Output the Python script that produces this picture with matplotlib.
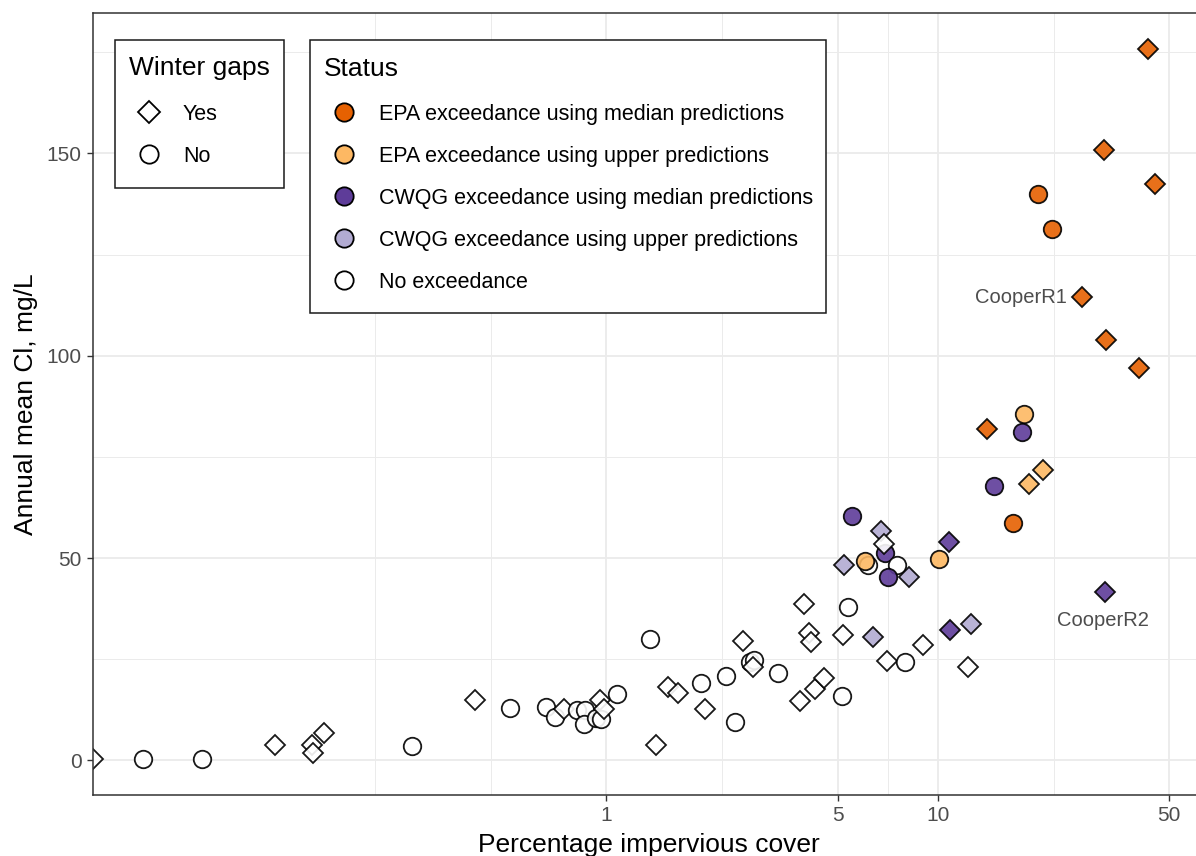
import numpy as np
import matplotlib
matplotlib.use("Agg")
import matplotlib.pyplot as plt
from matplotlib.lines import Line2D
from matplotlib.patches import Rectangle

plt.rcParams['font.family'] = ['Liberation Sans', 'DejaVu Sans']

# ---------------- data ----------------
impervious = [0, 0.040, 0.060, 0.100, 0.129, 0.130, 0.140, 0.259, 0.400, 0.511,
              0.659, 0.698, 0.743, 0.816, 0.864, 0.858, 0.933, 0.964, 0.953, 0.980,
              1.077, 1.358, 1.41, 1.535, 1.64, 1.93, 1.99, 2.30, 2.44, 2.59,
              2.72, 2.78, 2.77, 3.30, 3.84, 3.94, 4.08, 4.15, 4.27, 4.55,
              5.14, 5.18, 5.36, 6.38, 7.03, 7.94, 9.0, 10.9, 12.6, 12.3,
              5.51, 6.75, 6.91, 6.86, 5.22, 6.18, 6.04, 7.53, 7.08, 8.17,
              10.1, 10.78, 14.8, 18.9, 20.8, 14.06, 18.15, 17.9, 16.9, 32.0,
              43.2, 31.8, 45.3, 20.05, 22.1, 27.2, 32.2, 40.6]
chloride = [0.3, 0.3, 0.3, 3.9, 3.7, 1.9, 6.7, 3.5, 14.9, 12.9,
            13.1, 10.8, 12.6, 12.5, 12.5, 9.0, 10.4, 10.3, 14.9, 12.7,
            16.3, 30.0, 3.7, 18.1, 16.6, 19.1, 12.6, 20.9, 9.6, 29.6,
            24.2, 24.8, 23.0, 21.6, 14.6, 38.6, 31.6, 29.2, 17.7, 20.3,
            15.9, 31.0, 37.8, 30.4, 24.6, 24.4, 28.5, 32.3, 33.8, 23.0,
            60.3, 56.7, 51.3, 53.4, 48.2, 48.4, 49.3, 48.4, 45.2, 45.4,
            49.7, 53.9, 67.9, 68.4, 71.8, 81.9, 85.6, 81.1, 58.7, 41.5,
            175.9, 150.8, 142.5, 140.0, 131.4, 114.5, 104.0, 96.9]
winter_gaps = ['Yes', 'No', 'No', 'Yes', 'Yes', 'Yes', 'Yes', 'No', 'Yes', 'No',
               'No', 'No', 'Yes', 'No', 'No', 'No', 'No', 'No', 'Yes', 'Yes',
               'No', 'No', 'Yes', 'Yes', 'Yes', 'No', 'Yes', 'No', 'No', 'Yes',
               'No', 'No', 'Yes', 'No', 'Yes', 'Yes', 'Yes', 'Yes', 'Yes', 'Yes',
               'No', 'Yes', 'No', 'Yes', 'Yes', 'No', 'Yes', 'Yes', 'Yes', 'Yes',
               'No', 'Yes', 'No', 'Yes', 'Yes', 'No', 'No', 'No', 'No', 'Yes',
               'No', 'Yes', 'No', 'Yes', 'Yes', 'Yes', 'No', 'No', 'No', 'Yes',
               'Yes', 'Yes', 'Yes', 'No', 'No', 'Yes', 'Yes', 'Yes']
N_, EM, EU, CM, CU = 4, 0, 1, 2, 3
status = [N_, N_, N_, N_, N_, N_, N_, N_, N_, N_,
          N_, N_, N_, N_, N_, N_, N_, N_, N_, N_,
          N_, N_, N_, N_, N_, N_, N_, N_, N_, N_,
          N_, N_, N_, N_, N_, N_, N_, N_, N_, N_,
          N_, N_, N_, CU, N_, N_, N_, CM, CU, N_,
          CM, CU, CM, N_, CU, N_, EU, N_, CM, CU,
          EU, CM, CM, EU, EU, EM, EU, CM, EM, CM,
          EM, EM, EM, EM, EM, EM, EM, EM]
site_labels = {75: 'CooperR1', 69: 'CooperR2'}

status_labels = ['EPA exceedance using median predictions',
                 'EPA exceedance using upper predictions',
                 'CWQG exceedance using median predictions',
                 'CWQG exceedance using upper predictions',
                 'No exceedance']
status_colors = ['#E66101', '#FDB863', '#5E3C99', '#B2ABD2', '#FFFFFF']
gap_labels = ['Yes', 'No']
gap_markers = {'Yes': 'D', 'No': 'o'}

x_breaks = [1, 5, 10, 50]
y_breaks = [0, 50, 100, 150]

# ---------------- figure ----------------
W, H = 1196, 856
fig = plt.figure(figsize=(W / 100, H / 100), dpi=100)
fx = lambda px: px / W
fy = lambda py: 1 - py / H
left, right, top, bottom = 92.7, 1205.7, 13.0, 794.7
ax = fig.add_axes([fx(left), fy(bottom), fx(right) - fx(left), (bottom - top) / H])

x = np.array(impervious, float)
y = np.array(chloride, float)
pos = x[x > 0]
lx0, lx1 = np.log10(pos.min()), np.log10(pos.max())
ex = 0.05 * (lx1 - lx0)
xlim = (10 ** (lx0 - ex), 10 ** (lx1 + ex))
ey = 0.05 * (y.max() - y.min())
ylim = (y.min() - ey, y.max() + ey)

ax.set_xscale('log')
ax.set_xlim(*xlim)
ax.set_ylim(*ylim)

# gridlines (ggplot-like: major + minor)
lb = np.log10(x_breaks)
bd = lb[1] - lb[0]
ext = np.concatenate([[lb[0] - bd], lb])
minor_x = []
for a, b in zip(ext[:-1], ext[1:]):
    minor_x.append((a + b) / 2)
minor_x = [10 ** v for v in minor_x] + [10 ** ext[0]]
for v in minor_x:
    ax.axvline(v, color='#EBEBEB', lw=0.7, zorder=0)
for v in [25, 75, 125, 175]:
    ax.axhline(v, color='#EBEBEB', lw=0.7, zorder=0)
for v in x_breaks:
    ax.axvline(v, color='#EBEBEB', lw=1.3, zorder=0.5)
for v in y_breaks:
    ax.axhline(v, color='#EBEBEB', lw=1.3, zorder=0.5)

MS = {'D': 10.2, 'o': 12.6}
MEW = 1.3

# points, in data order
xplot = np.where(x > 0, x, xlim[0])
for i in range(len(x)):
    m = gap_markers[winter_gaps[i]]
    ax.plot([xplot[i]], [y[i]], linestyle='none', marker=m, ms=MS[m],
            mfc=status_colors[status[i]], mec='black', mew=MEW, alpha=0.9,
            zorder=2 + i * 0.01, clip_on=True)

for i, lab in site_labels.items():
    if lab == 'CooperR1':
        ax.annotate(lab, (xplot[i], y[i]), xytext=(-11, 0), textcoords='offset points',
                    ha='right', va='center', fontsize=14.5, color='#4D4D4D', zorder=5)
    else:
        ax.annotate(lab, (xplot[i], y[i]), xytext=(-1.5, -20.5), textcoords='offset points',
                    ha='center', va='center', fontsize=14.5, color='#4D4D4D', zorder=5)

ax.set_xticks(x_breaks)
ax.set_xticklabels([str(v) for v in x_breaks])
ax.xaxis.set_minor_locator(matplotlib.ticker.NullLocator())
ax.set_yticks(y_breaks)
ax.tick_params(axis='both', which='major', length=4.6, width=1.0, color='#333333',
               labelsize=15, labelcolor='#4D4D4D', pad=3.5)
for s in ax.spines.values():
    s.set_color('#333333')
    s.set_linewidth(1.1)
    s.set_zorder(6)

ax.set_xlabel('Percentage impervious cover', fontsize=19, color='black', va='baseline')
ax.xaxis.set_label_coords(0.5, (bottom - 852) / (bottom - top))
ax.set_ylabel('Annual mean Cl, mg/L', fontsize=19, color='black')
ax.yaxis.set_label_coords((38.5 - left) / (right - left), 0.5)

# ---------------- legends (drawn in figure pixel space) ----------------
def box(x0, y0, x1, y1):
    fig.add_artist(Rectangle((fx(x0), fy(y1)), fx(x1) - fx(x0), (y1 - y0) / H,
                             transform=fig.transFigure, facecolor='white',
                             edgecolor='#1A1A1A', lw=1.1, zorder=10))

def key(px, py, marker, fc):
    ms = 11.6 if marker == 'D' else 13.2
    fig.add_artist(Line2D([fx(px)], [fy(py)], transform=fig.transFigure, marker=marker,
                          ms=ms, mfc=fc, mec='black', mew=MEW, linestyle='none', zorder=11))

def label(px, py, s, size):
    fig.text(fx(px), fy(py), s, fontsize=size, ha='left', va='baseline', zorder=12)

box(115, 40, 284, 188)
label(129, 75.5, 'Winter gaps', 19)
for j, g in enumerate(gap_labels):
    cy = 112 + 42 * j
    key(149, cy, gap_markers[g], 'white')
    label(183, cy + 7.7, g, 15.5)

box(310, 40, 826, 313)
label(324, 75.5, 'Status', 19)
for j, (s, c) in enumerate(zip(status_labels, status_colors)):
    cy = 112 + 42 * j
    key(344, cy, 'o', c)
    label(379, cy + 7.7, s, 15.5)

fig.savefig('out.png', dpi=100)
